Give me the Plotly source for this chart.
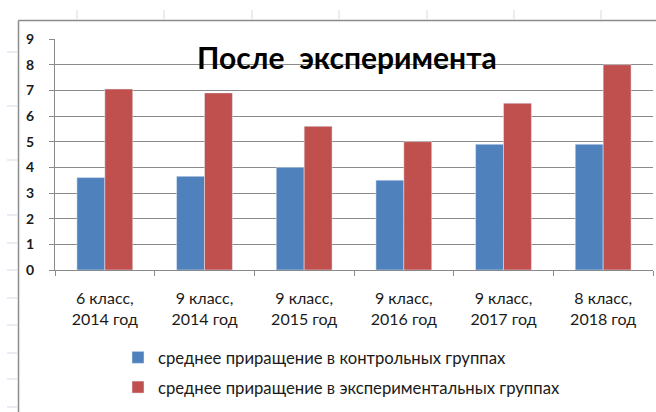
import plotly.graph_objects as go

categories = ["6 класс,<br>2014 год", "9 класс,<br>2014 год", "9 класс,<br>2015 год",
              "9 класс,<br>2016 год", "9 класс,<br>2017 год", "8 класс,<br>2018 год"]
control = [3.6, 3.65, 4.0, 3.5, 4.9, 4.9]
experimental = [7.05, 6.9, 5.6, 5.0, 6.5, 8.0]
series_names = ["среднее приращение в контрольных группах",
                "среднее приращение в экспериментальных группах"]
title_text = "После  эксперимента"
y_ticks = list(range(0, 10))

W, H = 656, 412
L, R, T, B = 55, 3, 39, 142
PW, PH = W - L - R, H - T - B


def px(x):
    return (x - L) / PW


def py(y):
    return (H - B - y) / PH


fig = go.Figure()
fig.add_trace(go.Bar(x=categories, y=control, name=series_names[0],
                     marker_color="#4F81BD", legendgroup="a"))
fig.add_trace(go.Bar(x=categories, y=experimental, name=series_names[1],
                     marker_color="#C0504D", legendgroup="b"))

grid = "#8a8a8a"
shapes = []
# chart area border
shapes.append(dict(type="line", xref="paper", yref="paper", x0=px(18.5), x1=px(656), y0=py(20.5), y1=py(20.5),
                   line=dict(color="#8c8c8c", width=1.5)))
shapes.append(dict(type="line", xref="paper", yref="paper", x0=px(18.5), x1=px(18.5), y0=py(20.5), y1=py(412),
                   line=dict(color="#8c8c8c", width=1.5)))
# spreadsheet cell gridline stubs
for xx in [77, 164, 252, 339, 427, 514, 601]:
    shapes.append(dict(type="line", xref="paper", yref="paper", x0=px(xx), x1=px(xx), y0=py(10), y1=py(19.5),
                       line=dict(color="#d4dbe8", width=1)))
for yy in [52, 106, 160, 215, 243, 270, 298, 325, 353, 379, 407]:
    shapes.append(dict(type="line", xref="paper", yref="paper", x0=px(7), x1=px(17.5), y0=py(yy), y1=py(yy),
                       line=dict(color="#d4dbe8", width=1)))

fig.update_layout(
    width=W, height=H,
    margin=dict(l=L, r=R, t=T, b=B, pad=0, autoexpand=False),
    paper_bgcolor="white", plot_bgcolor="white",
    barmode="group", bargap=0.44, bargroupgap=0,
    showlegend=True,
    legend=dict(orientation="v", x=px(118), y=py(340), xanchor="left", yanchor="top",
                font=dict(family="Lato", size=16.7, color="#1a1a1a"),
                tracegroupgap=5, bgcolor="rgba(0,0,0,0)"),
    shapes=shapes,
    annotations=[dict(text="<b>" + title_text + "</b>", xref="paper", yref="paper",
                      x=px(346.5), y=py(57), xanchor="center", yanchor="middle", showarrow=False,
                      font=dict(family="Lato", size=30, color="black"))],
)
fig.update_xaxes(type="category", showline=True, linecolor=grid, linewidth=1,
                 ticks="outside", ticklen=5, tickcolor=grid, tickson="boundaries",
                 tickfont=dict(family="Lato", size=16, color="#1a1a1a"),
                 showgrid=False, ticklabelstandoff=14, automargin=False)
fig.update_yaxes(range=[0, 9], tickvals=y_ticks, showline=True, linecolor=grid, linewidth=1,
                 ticks="outside", ticklen=5, tickcolor=grid,
                 showgrid=True, gridcolor=grid, gridwidth=1, zeroline=False,
                 tickfont=dict(family="Lato", size=14, color="#1a1a1a", weight="bold"),
                 ticklabelstandoff=12, automargin=False)

fig.write_html("out.html", config={"displayModeBar": False},
               post_script="document.body.style.margin='0';document.body.style.overflow='hidden';")
